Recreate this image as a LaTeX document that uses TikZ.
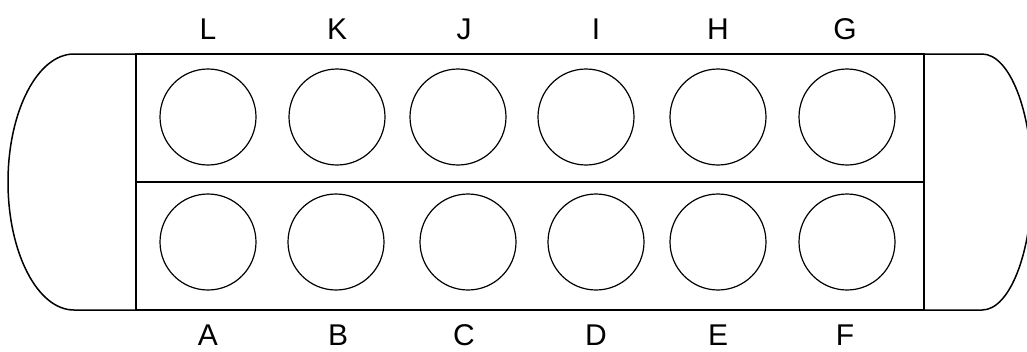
\documentclass[tikz,border=0pt]{standalone}
\usepackage{fontspec}
\setmainfont{Liberation Sans}
\begin{document}
\begin{tikzpicture} [x = 1pt, y = -1pt,
    pit/.style = {draw, circle, line width = 1.2pt, minimum size = 96pt, inner sep = 0pt},
    pitname/.style = {font = \fontsize{30}{30}\selectfont, inner sep = 0pt},
    board/.style = {line width = 1.5pt}]
          \useasboundingbox (0,0) rectangle (1027,351);
          \fill[white] (0,0) rectangle (1027,351);
          % board and stores
          \draw[board] (136,54) rectangle (924,310);
          \draw[board] (136,182) -- (924,182);
          \draw[board] (136,54) -- (74,54) arc [start angle = -90, end angle = -270, x radius = 66, y radius = 128] -- (136,310);
          \draw[board] (924,54) -- (982,54) arc [start angle = -90, end angle = 90, x radius = 50, y radius = 128] -- (924,310);
          % top row
          \node[pit] (L) at (208,117) {};
          \node[pit] (K) at (337,117) {};
          \node[pit] (J) at (458,117) {};
          \node[pit] (I) at (586,117) {};
          \node[pit] (H) at (718,117) {};
          \node[pit] (G) at (847,117) {};
          % bottom row
          \node[pit] (A) at (208,242) {};
          \node[pit] (B) at (336,242) {};
          \node[pit] (C) at (468,242) {};
          \node[pit] (D) at (596,242) {};
          \node[pit] (E) at (718,242) {};
          \node[pit] (F) at (847,242) {};
          % names
          \node[pitname] (nameL) at (208,29) {L};
          \node[pitname] (nameK) at (337,29) {K};
          \node[pitname] (nameJ) at (464,29) {J};
          \node[pitname] (nameI) at (596,29) {I};
          \node[pitname] (nameH) at (718,29) {H};
          \node[pitname] (nameG) at (845,29) {G};
          \node[pitname] (nameA) at (208,335) {A};
          \node[pitname] (nameB) at (338,335) {B};
          \node[pitname] (nameC) at (464,335) {C};
          \node[pitname] (nameD) at (596,335) {D};
          \node[pitname] (nameE) at (718,335) {E};
          \node[pitname] (nameF) at (845,335) {F};
        \end{tikzpicture}
\end{document}
